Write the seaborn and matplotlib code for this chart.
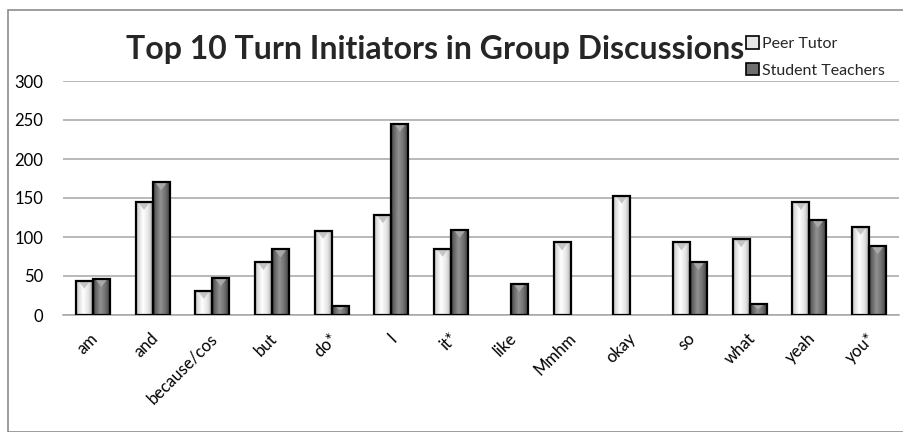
import matplotlib
matplotlib.use("Agg")
import matplotlib.pyplot as plt
import matplotlib.transforms as mtransforms
import numpy as np
import seaborn as sns
import pandas as pd
from matplotlib.patches import Rectangle, Patch, Polygon
from matplotlib.colors import LinearSegmentedColormap

categories = ["am", "and", "because/cos", "but", "do*", "I", "it*", "like",
              "Mmhm", "okay", "so", "what", "yeah", "you*"]
peer_tutor = [44, 145, 31, 68, 108, 128, 85, 0, 93, 153, 93, 97, 145, 113]
student_teachers = [46, 170, 47, 84, 12, 245, 109, 40, 0, 0, 68, 14, 122, 88]
series_names = ["Peer Tutor", "Student Teachers"]
yticks = [0, 50, 100, 150, 200, 250, 300]

df = pd.DataFrame({
    "word": categories * 2,
    "count": peer_tutor + student_teachers,
    "series": [series_names[0]] * len(categories) + [series_names[1]] * len(categories),
})

sns.set_theme(style="white")
plt.rcParams["font.family"] = ["Lato", "DejaVu Sans"]

W, H = 904, 432
fig = plt.figure(figsize=(W / 100, H / 100), dpi=100)
ax = fig.add_axes([63 / W, 1 - 315 / H, (899 - 63) / W, (315 - 81) / H])

colors = {"Peer Tutor": "#e6e6e6", "Student Teachers": "#6e6e6e"}
sns.barplot(data=df, x="word", y="count", hue="series", hue_order=series_names,
            order=categories, palette=colors, width=0.57, ax=ax,
            edgecolor="black", linewidth=1.6, saturation=1, legend=False, zorder=4)

cmaps = {
    "#e6e6e6": LinearSegmentedColormap.from_list("pt", [(0, "#b4b4b4"), (0.12, "#d8d8d8"), (0.4, "#ffffff"),
                                                        (0.7, "#e4e4e4"), (1.0, "#a4a4a4")]),
    "#6e6e6e": LinearSegmentedColormap.from_list("st", [(0, "#3a3a3a"), (0.12, "#5e5e5e"), (0.42, "#929292"),
                                                        (0.7, "#707070"), (1.0, "#383838")]),
}
tops = {"#e6e6e6": "#c4c4c4", "#6e6e6e": "#a8a8a8"}
grad = np.linspace(0, 1, 64).reshape(1, -1)
px_per_unit = (315 - 81) / 300.0

for p in list(ax.patches):
    h = p.get_height()
    if h == 0:
        p.set_visible(False)
        continue
    fc = matplotlib.colors.to_hex(p.get_facecolor())
    x0, w = p.get_x(), p.get_width()
    im = ax.imshow(grad, cmap=cmaps[fc], extent=[x0, x0 + w, 0, h], aspect="auto",
                   zorder=3, interpolation="bilinear")
    im.set_clip_path(p)
    tri_h = min(8 / px_per_unit, h * 0.5)
    ax.add_patch(Polygon([[x0 + w * 0.15, h], [x0 + w * 0.85, h], [x0 + w * 0.5, h - tri_h]],
                         closed=True, facecolor=tops[fc], edgecolor="none", zorder=3.5))
    p.set_facecolor("none")

ax.set_ylim(0, 300)
ax.set_xlim(-0.5, len(categories) - 0.5)
ax.set_yticks(yticks)
ax.yaxis.grid(True, color="#a6a6a6", linewidth=1.1, zorder=0)
ax.set_axisbelow(True)
for s in ["left", "right", "top"]:
    ax.spines[s].set_visible(False)
ax.spines["bottom"].set_color("#a6a6a6")
ax.spines["bottom"].set_linewidth(1.1)
ax.set_xlabel("")
ax.set_ylabel("")
ax.tick_params(axis="y", length=0, pad=14, labelsize=12, labelcolor="black")
ax.tick_params(axis="x", length=0, pad=15, labelsize=12, labelcolor="black")
offset = mtransforms.ScaledTranslation(3 / 100, 0, fig.dpi_scale_trans)
for lab in ax.get_xticklabels():
    lab.set_rotation(45)
    lab.set_ha("right")
    lab.set_va("center")
    lab.set_rotation_mode("anchor")
    lab.set_transform(lab.get_transform() + offset)

fig.text(435 / W, 1 - 49 / H, "Top 10 Turn Initiators in Group Discussions",
         ha="center", va="center", fontsize=23, fontweight="bold")

handles = [Patch(facecolor=colors[n], edgecolor="black", linewidth=1.2) for n in series_names]
fig.legend(handles, series_names, loc="upper left", bbox_to_anchor=(740 / W, 1 - 30 / H),
           frameon=False, fontsize=11.5, handlelength=0.8, handleheight=0.8,
           handletextpad=0.2, labelspacing=0.75, borderaxespad=0)

fig.patches.append(Rectangle((8 / W, 0), 1, 1 - 10 / H, transform=fig.transFigure,
                             fill=False, edgecolor="#8c8c8c", linewidth=1.2))

fig.savefig("out.png", dpi=100)
